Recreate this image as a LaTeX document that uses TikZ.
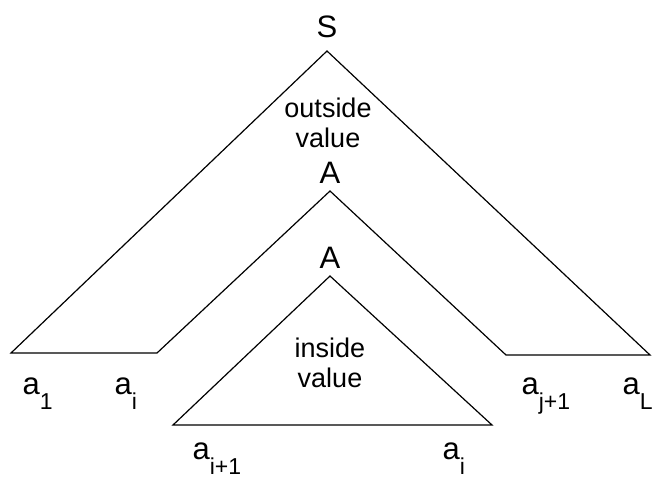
\documentclass[tikz,border=0pt]{standalone}
\usepackage{fontspec}
\setmainfont{Liberation Sans}
\usetikzlibrary{positioning}

\newcommand{\idx}[1]{\raisebox{-15pt}{\fontsize{23}{23}\selectfont #1}}

\begin{document}
\begin{tikzpicture}[x=1pt,y=-1pt,line width=1.2pt,line join=miter,
    sym/.style={anchor=base,inner sep=0pt,font=\fontsize{31}{31}\selectfont},
    leaf/.style={anchor=base west,inner sep=0pt,font=\fontsize{31}{31}\selectfont},
    val/.style={align=center,inner sep=0pt,font=\fontsize{27}{30}\selectfont}]
  \useasboundingbox (0,0) rectangle (652,479);
  % corners of the outside part
  \coordinate (top) at (327,51);
  \coordinate (l1) at (11,353);
  \coordinate (li) at (157,353);
  \coordinate (mid) at (330,191);
  \coordinate (rj) at (506,355);
  \coordinate (rL) at (650,355);
  % corners of the inside part
  \coordinate (in) at (330,276);
  \coordinate (bl) at (173,425);
  \coordinate (br) at (492,425);
  \draw (top) -- (l1) -- (li) -- (mid) -- (rj) -- (rL) -- cycle;
  \draw (in) -- (bl) -- (br) -- cycle;

  \node[sym] (S) at (327,37) {S};
  \node[sym] (A1) at (330,183) {A};
  \node[sym] (A2) at (330,268) {A};
  \node[val,anchor=base] (out) at (328,147) {outside\\value};
  \node[val,anchor=base] (ins) at (330,387) {inside\\value};

  \node[leaf] (a1) at (22,394) {a\idx{1}};
  \node[leaf] (ai) at (114,394) {a\idx{i}};
  \node[leaf] (aj) at (521,394) {a\idx{j+1}};
  \node[leaf] (aL) at (622,394) {a\idx{L}};
  \node[leaf] (ai1) at (192,459) {a\idx{i+1}};
  \node[leaf] (ai2) at (442,459) {a\idx{i}};
\end{tikzpicture}
\end{document}
